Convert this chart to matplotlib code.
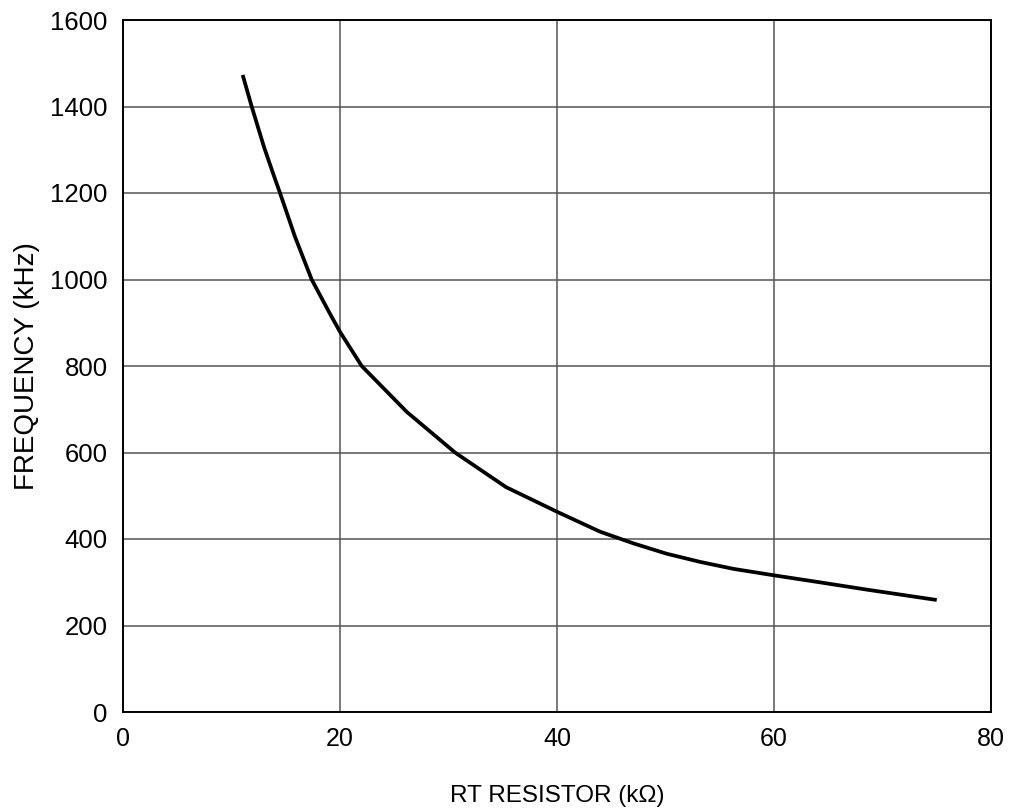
import matplotlib
matplotlib.use("Agg")
import matplotlib.pyplot as plt

resistance_kohm = [11.03, 11.86, 13.0, 13.85, 14.47, 15.85, 17.39, 19.05, 20.0, 22.0,
                   26.15, 30.6, 35.3, 40.0, 43.96, 47.03, 50.1, 53.2, 56.25, 60.0,
                   63.93, 68.54, 75.0]
frequency_khz = [1473, 1400, 1306, 1244, 1200, 1099, 1000, 922, 879, 800,
                 694, 600, 520, 463, 417, 390, 366, 347, 331, 316,
                 301, 283, 259]

x_ticks = [0, 20, 40, 60, 80]
y_ticks = [0, 200, 400, 600, 800, 1000, 1200, 1400, 1600]

plt.rcParams['font.family'] = ['Liberation Sans', 'DejaVu Sans']

fig = plt.figure(figsize=(10.11, 8.10), dpi=100)
ax = fig.add_axes([123/1011, 1-712/810, (991-123)/1011, (712-20)/810])

ax.plot(resistance_kohm, frequency_khz, color='black', lw=2.7,
        solid_capstyle='butt', solid_joinstyle='round', zorder=3)

ax.set_xlim(0, 80)
ax.set_ylim(0, 1600)
ax.set_xticks(x_ticks)
ax.set_yticks(y_ticks)
ax.grid(True, color='#555555', lw=1.1)
ax.tick_params(length=0)
ax.tick_params(axis='x', pad=11, labelsize=18)
ax.tick_params(axis='y', pad=11, labelsize=18.5)
for s in ax.spines.values():
    s.set_linewidth(1.4)
    s.set_color('black')

ax.set_xlabel('RT RESISTOR (kΩ)', fontsize=17.5, labelpad=24)
ax.set_ylabel('FREQUENCY (kHz)', fontsize=20, labelpad=7)

fig.savefig('out.png', dpi=100)
